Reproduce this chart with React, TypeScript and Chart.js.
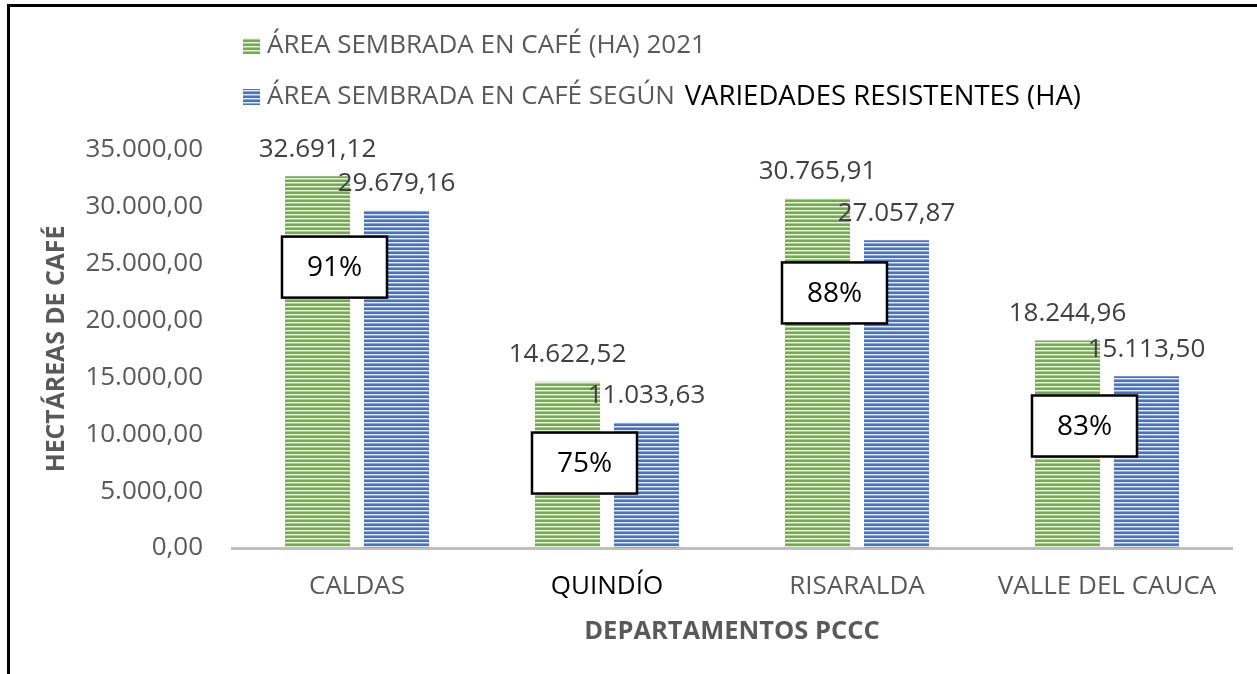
import React, { useEffect, useRef } from "react";
import { Chart, registerables } from "chart.js";

Chart.register(...registerables);

const categories = ["CALDAS", "QUINDÍO", "RISARALDA", "VALLE DEL CAUCA"];
const seriesLabels = [
  "ÁREA SEMBRADA EN CAFÉ (HA) 2021",
  "ÁREA SEMBRADA EN CAFÉ SEGÚN VARIEDADES RESISTENTES (HA)",
];
const areaSembrada = [32691.12, 14622.52, 30765.91, 18244.96];
const areaResistentes = [29679.16, 11033.63, 27057.87, 15113.5];
const ratioLabels = ["91%", "75%", "88%", "83%"];
const ratioBoxAt = [24700, 7470, 22430, 10730];
const yMin = 0;
const yMax = 35000;
const yStep = 5000;
const yTitle = "HECTÁREAS DE CAFÉ";
const xTitle = "DEPARTAMENTOS PCCC";

const GREEN = "#70AD47";
const BLUE = "#4472C4";
const GRAY = "#595959";
const FONT = "'Open Sans', 'Noto Sans', sans-serif";

function fmt(v: number): string {
  const [i, d] = v.toFixed(2).split(".");
  return i.replace(/\B(?=(\d{3})+(?!\d))/g, ".") + "," + d;
}

function makePattern(color: string): CanvasPattern | string {
  const c = document.createElement("canvas");
  c.width = 4;
  c.height = 4;
  const g = c.getContext("2d");
  if (!g) return color;
  g.fillStyle = color;
  g.fillRect(0, 0, 4, 4);
  g.fillStyle = "rgba(255,255,255,0.85)";
  g.fillRect(0, 2, 4, 1);
  g.fillStyle = "rgba(255,255,255,0.4)";
  g.fillRect(0, 3, 4, 1);
  return g.createPattern(c, "repeat") || color;
}

export default function App() {
  const ref = useRef<HTMLCanvasElement | null>(null);

  useEffect(() => {
    if (!ref.current) return;
    const greenFill = makePattern(GREEN);
    const blueFill = makePattern(BLUE);
    const fills = [greenFill, blueFill];

    const overlay = {
      id: "overlay",
      afterDatasetsDraw(chart: any) {
        const ctx = chart.ctx as CanvasRenderingContext2D;
        const yScale = chart.scales.y;
        ctx.save();
        // value labels
        ctx.font = `26px ${FONT}`;
        ctx.fillStyle = "#404040";
        ctx.textAlign = "center";
        ctx.textBaseline = "middle";
        chart.data.datasets.forEach((ds: any, di: number) => {
          const meta = chart.getDatasetMeta(di);
          meta.data.forEach((bar: any, i: number) => {
            ctx.fillText(fmt(ds.data[i]), bar.x, bar.y - 27);
          });
        });
        // ratio boxes
        const g = chart.getDatasetMeta(0);
        g.data.forEach((bar: any, i: number) => {
          const left = bar.x - bar.width / 2 - 3;
          const cy = yScale.getPixelForValue(ratioBoxAt[i]);
          const w = 105;
          const h = 61;
          ctx.fillStyle = "#ffffff";
          ctx.fillRect(left, cy - h / 2, w, h);
          ctx.lineWidth = 2.5;
          ctx.strokeStyle = "#000000";
          ctx.strokeRect(left, cy - h / 2, w, h);
          ctx.fillStyle = "#000000";
          ctx.font = `28px ${FONT}`;
          ctx.fillText(ratioLabels[i], left + w / 2, cy + 1);
        });
        // legend
        const rows = [46, 97];
        ctx.textAlign = "left";
        chart.data.datasets.forEach((ds: any, di: number) => {
          const cy = rows[di];
          ctx.fillStyle = fills[di] as any;
          ctx.fillRect(243, cy - 8, 17, 16);
          const label: string = ds.label;
          const split = label.indexOf("VARIEDADES");
          ctx.font = `26px ${FONT}`;
          if (split > 0) {
            const a = label.slice(0, split);
            const b = label.slice(split);
            ctx.fillStyle = GRAY;
            ctx.fillText(a, 267, cy);
            const wa = ctx.measureText(a).width;
            ctx.fillStyle = "#000000";
            ctx.font = `27.5px ${FONT}`;
            ctx.fillText(b, 267 + wa + 3, cy);
          } else {
            ctx.fillStyle = GRAY;
            ctx.fillText(label, 267, cy);
          }
        });
        ctx.restore();
      },
    };

    const chart = new Chart(ref.current, {
      type: "bar",
      data: {
        labels: categories,
        datasets: [
          {
            label: seriesLabels[0],
            data: areaSembrada,
            backgroundColor: greenFill as any,
            borderWidth: 0,
            barPercentage: 0.823,
            categoryPercentage: 0.632,
          },
          {
            label: seriesLabels[1],
            data: areaResistentes,
            backgroundColor: blueFill as any,
            borderWidth: 0,
            barPercentage: 0.823,
            categoryPercentage: 0.632,
          },
        ],
      },
      options: {
        animation: false,
        responsive: false,
        devicePixelRatio: 1,
        font: { family: FONT },
        layout: { padding: { left: 0, right: 25, top: 150, bottom: 0 } },
        plugins: {
          legend: { display: false },
          tooltip: { enabled: false },
        },
        scales: {
          x: {
            grid: { display: false, drawTicks: false },
            border: { display: true, color: "#BFBFBF", width: 3 },
            ticks: {
              padding: 23,
              color: (c: any) => (c.index === 1 ? "#000000" : GRAY),
              font: { size: 26, family: FONT },
            },
            title: {
              display: true,
              text: xTitle,
              color: GRAY,
              font: { size: 25.5, weight: "bold", family: FONT },
              padding: { top: 0, bottom: 27 },
            },
            afterFit: (s: any) => {
              s.height = 126;
            },
          },
          y: {
            min: yMin,
            max: yMax,
            grid: { display: false, drawTicks: false },
            border: { display: false },
            ticks: {
              stepSize: yStep,
              padding: 29,
              color: GRAY,
              font: { size: 26, family: FONT },
              callback: (v: any) => fmt(Number(v)),
            },
            title: {
              display: true,
              text: yTitle,
              color: GRAY,
              font: { size: 24.8, weight: "bold", family: FONT },
              padding: { top: 42, bottom: 0 },
            },
            afterFit: (s: any) => {
              s.width = 232;
            },
          },
        },
      } as any,
      plugins: [overlay],
    });
    return () => chart.destroy();
  }, []);

  return (
    <div
      style={{
        position: "fixed",
        left: 0,
        top: 0,
        width: 1257,
        height: 674,
        background: "#ffffff",
        overflow: "hidden",
      }}
    >
      <canvas
        ref={ref}
        width={1257}
        height={674}
        style={{ position: "absolute", left: 0, top: 0, width: 1257, height: 674 }}
      />
      <div style={{ position: "absolute", left: 7, top: 4, width: 1250, height: 3, background: "#000" }} />
      <div style={{ position: "absolute", left: 7, top: 4, width: 3, height: 670, background: "#000" }} />
    </div>
  );
}
